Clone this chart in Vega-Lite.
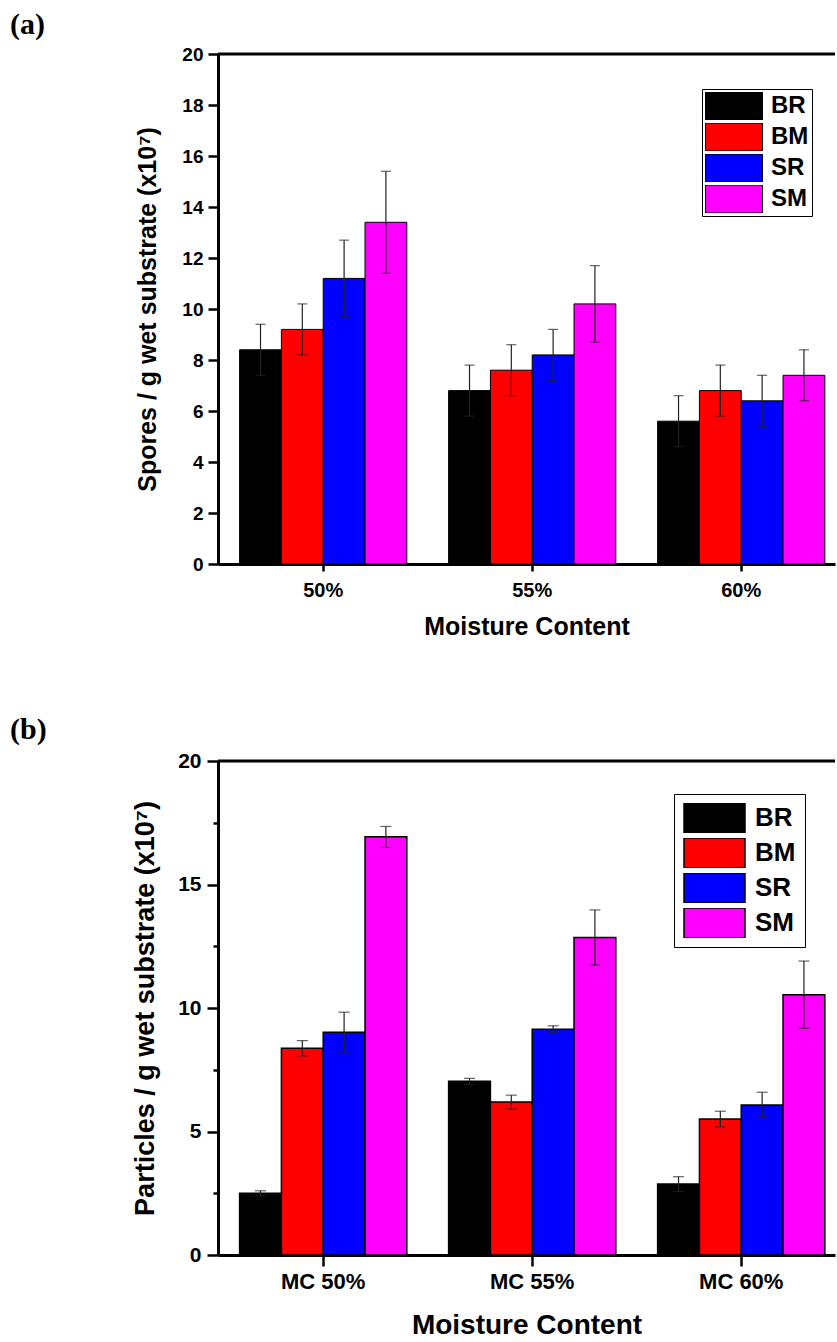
{
  "$schema": "https://vega.github.io/schema/vega-lite/v6.json",
  "padding": {"left": 10, "top": 10, "right": 0, "bottom": 0},
  "background": "white",
  "config": {
    "font": "Liberation Sans",
    "view": {"stroke": null},
    "axis": {"labelFontWeight": "bold", "titleFontWeight": "bold", "labelColor": "black", "titleColor": "black", "domainColor": "black", "tickColor": "black", "domainWidth": 3, "grid": false, "labelFont": "Liberation Sans", "titleFont": "Liberation Sans"},
    "legend": {"labelFont": "Liberation Sans", "labelFontWeight": "bold", "labelColor": "black"}
  },
  "datasets": {
    "a": [
      {"mc": "50%", "group": "BR", "value": 8.4, "lo": 7.4, "hi": 9.4},
      {"mc": "50%", "group": "BM", "value": 9.2, "lo": 8.2, "hi": 10.2},
      {"mc": "50%", "group": "SR", "value": 11.2, "lo": 9.7, "hi": 12.7},
      {"mc": "50%", "group": "SM", "value": 13.4, "lo": 11.4, "hi": 15.4},
      {"mc": "55%", "group": "BR", "value": 6.8, "lo": 5.8, "hi": 7.8},
      {"mc": "55%", "group": "BM", "value": 7.6, "lo": 6.6, "hi": 8.6},
      {"mc": "55%", "group": "SR", "value": 8.2, "lo": 7.2, "hi": 9.2},
      {"mc": "55%", "group": "SM", "value": 10.2, "lo": 8.7, "hi": 11.7},
      {"mc": "60%", "group": "BR", "value": 5.6, "lo": 4.6, "hi": 6.6},
      {"mc": "60%", "group": "BM", "value": 6.8, "lo": 5.8, "hi": 7.8},
      {"mc": "60%", "group": "SR", "value": 6.4, "lo": 5.4, "hi": 7.4},
      {"mc": "60%", "group": "SM", "value": 7.4, "lo": 6.4, "hi": 8.4}
    ],
    "b": [
      {"mc": "MC 50%", "group": "BR", "value": 2.5, "lo": 2.4, "hi": 2.6},
      {"mc": "MC 50%", "group": "BM", "value": 8.37, "lo": 8.06, "hi": 8.68},
      {"mc": "MC 50%", "group": "SR", "value": 9.02, "lo": 8.22, "hi": 9.83},
      {"mc": "MC 50%", "group": "SM", "value": 16.93, "lo": 16.5, "hi": 17.35},
      {"mc": "MC 55%", "group": "BR", "value": 7.03, "lo": 6.91, "hi": 7.15},
      {"mc": "MC 55%", "group": "BM", "value": 6.19, "lo": 5.91, "hi": 6.47},
      {"mc": "MC 55%", "group": "SR", "value": 9.14, "lo": 9.0, "hi": 9.28},
      {"mc": "MC 55%", "group": "SM", "value": 12.85, "lo": 11.74, "hi": 13.97},
      {"mc": "MC 60%", "group": "BR", "value": 2.87, "lo": 2.57, "hi": 3.17},
      {"mc": "MC 60%", "group": "BM", "value": 5.51, "lo": 5.19, "hi": 5.82},
      {"mc": "MC 60%", "group": "SR", "value": 6.07, "lo": 5.6, "hi": 6.59},
      {"mc": "MC 60%", "group": "SM", "value": 10.54, "lo": 9.18, "hi": 11.9}
    ],
    "frame": [{"top": 20}]
  },
  "spacing": 76,
  "resolve": {"scale": {"color": "independent", "x": "independent", "y": "independent"}, "legend": {"color": "independent"}},
  "vconcat": [
    {
      "title": {"text": "(a)", "anchor": "start", "frame": "group", "dx": -208, "font": "Liberation Serif", "fontSize": 30, "fontWeight": "bold", "color": "black", "offset": 5},
      "width": 617,
      "height": 510,
      "layer": [
        {
          "data": {"name": "a"},
          "encoding": {
            "x": {"field": "mc", "type": "nominal", "sort": null, "title": "Moisture Content",
              "scale": {"paddingInner": 0.2, "paddingOuter": 0.076, "align": 0.68},
              "axis": {"labelAngle": 0, "labelFontSize": 20, "titleFontSize": 25, "tickSize": 7, "tickWidth": 2.5, "labelPadding": 9, "titlePadding": 14}},
            "xOffset": {"field": "group", "type": "nominal", "sort": ["BR", "BM", "SR", "SM"], "scale": {"paddingInner": 0, "paddingOuter": 0}}
          },
          "layer": [
            {
              "mark": {"type": "bar", "stroke": "black", "strokeWidth": 1},
              "encoding": {
                "y": {"field": "value", "type": "quantitative", "title": "Spores / g wet substrate (x10⁷)",
                  "scale": {"domain": [0, 20], "nice": false},
                  "axis": {"values": [0,1,2,3,4,5,6,7,8,9,10,11,12,13,14,15,16,17,18,19,20], "labelExpr": "datum.value % 2 === 0 ? datum.label : ''",
                    "tickSize": {"condition": {"test": "datum.value % 2 !== 0", "value": 5}, "value": 10},
                    "tickWidth": 2.5, "labelFontSize": 19, "labelPadding": 5, "titleFontSize": 25, "titlePadding": 21}},
                "color": {"field": "group", "type": "nominal", "sort": ["BR", "BM", "SR", "SM"],
                  "scale": {"domain": ["BR", "BM", "SR", "SM"], "range": ["#000000", "#ff0000", "#0000ff", "#ff00ff"]},
                  "legend": {"title": null, "orient": "none", "legendX": 484, "legendY": 35, "symbolType": "M-1,-0.49H1V0.49H-1Z", "symbolSize": 3249, "clipHeight": 28, "rowPadding": 3, "labelFontSize": 24, "labelOffset": 8, "padding": 3, "strokeColor": "black", "symbolStrokeColor": "black", "symbolStrokeWidth": 1, "symbolOpacity": 1}}
              }
            },
            {
              "mark": {"type": "rule", "color": "#222222", "strokeWidth": 1.2},
              "encoding": {"y": {"field": "lo", "type": "quantitative"}, "y2": {"field": "hi"}}
            },
            {
              "mark": {"type": "tick", "color": "#222222", "thickness": 1.2, "size": 10, "orient": "horizontal"},
              "encoding": {"y": {"field": "lo", "type": "quantitative"}}
            },
            {
              "mark": {"type": "tick", "color": "#222222", "thickness": 1.2, "size": 10, "orient": "horizontal"},
              "encoding": {"y": {"field": "hi", "type": "quantitative"}}
            }
          ]
        },
        {
          "data": {"name": "frame"},
          "mark": {"type": "rule", "color": "black", "strokeWidth": 3},
          "encoding": {"y": {"field": "top", "type": "quantitative"}}
        }
      ]
    },
    {
      "title": {"text": "(b)", "anchor": "start", "frame": "group", "dx": -208, "font": "Liberation Serif", "fontSize": 30, "fontWeight": "bold", "color": "black", "offset": 5},
      "width": 617,
      "height": 494,
      "layer": [
        {
          "data": {"name": "b"},
          "encoding": {
            "x": {"field": "mc", "type": "nominal", "sort": null, "title": "Moisture Content",
              "scale": {"paddingInner": 0.2, "paddingOuter": 0.076, "align": 0.68},
              "axis": {"labelAngle": 0, "labelFontSize": 22, "titleFontSize": 28, "tickSize": 11, "tickWidth": 2.5, "labelPadding": 5, "titlePadding": 19}},
            "xOffset": {"field": "group", "type": "nominal", "sort": ["BR", "BM", "SR", "SM"], "scale": {"paddingInner": 0, "paddingOuter": 0}}
          },
          "layer": [
            {
              "mark": {"type": "bar", "stroke": "black", "strokeWidth": 1.5},
              "encoding": {
                "y": {"field": "value", "type": "quantitative", "title": "Particles / g wet substrate (x10⁷)",
                  "scale": {"domain": [0, 20], "nice": false},
                  "axis": {"values": [0,2.5,5,7.5,10,12.5,15,17.5,20], "labelExpr": "datum.value % 5 === 0 ? datum.label : ''",
                    "tickSize": {"condition": {"test": "datum.value % 5 !== 0", "value": 5}, "value": 11},
                    "tickWidth": 2.5, "labelFontSize": 21, "labelPadding": 6, "titleFontSize": 27, "titlePadding": 18}},
                "color": {"field": "group", "type": "nominal", "sort": ["BR", "BM", "SR", "SM"],
                  "scale": {"domain": ["BR", "BM", "SR", "SM"], "range": ["#000000", "#ff0000", "#0000ff", "#ff00ff"]},
                  "legend": {"title": null, "orient": "none", "legendX": 456, "legendY": 33, "symbolType": "M-1,-0.49H1V0.49H-1Z", "symbolSize": 3721, "clipHeight": 30, "rowPadding": 5, "labelFontSize": 26, "labelOffset": 9, "padding": 9, "strokeColor": "black", "symbolStrokeColor": "black", "symbolStrokeWidth": 1.5, "symbolOpacity": 1}}
              }
            },
            {
              "mark": {"type": "rule", "color": "#222222", "strokeWidth": 1.2},
              "encoding": {"y": {"field": "lo", "type": "quantitative"}, "y2": {"field": "hi"}}
            },
            {
              "mark": {"type": "tick", "color": "#222222", "thickness": 1.2, "size": 11, "orient": "horizontal"},
              "encoding": {"y": {"field": "lo", "type": "quantitative"}}
            },
            {
              "mark": {"type": "tick", "color": "#222222", "thickness": 1.2, "size": 11, "orient": "horizontal"},
              "encoding": {"y": {"field": "hi", "type": "quantitative"}}
            }
          ]
        },
        {
          "data": {"name": "frame"},
          "mark": {"type": "rule", "color": "black", "strokeWidth": 3},
          "encoding": {"y": {"field": "top", "type": "quantitative"}}
        }
      ]
    }
  ]
}
